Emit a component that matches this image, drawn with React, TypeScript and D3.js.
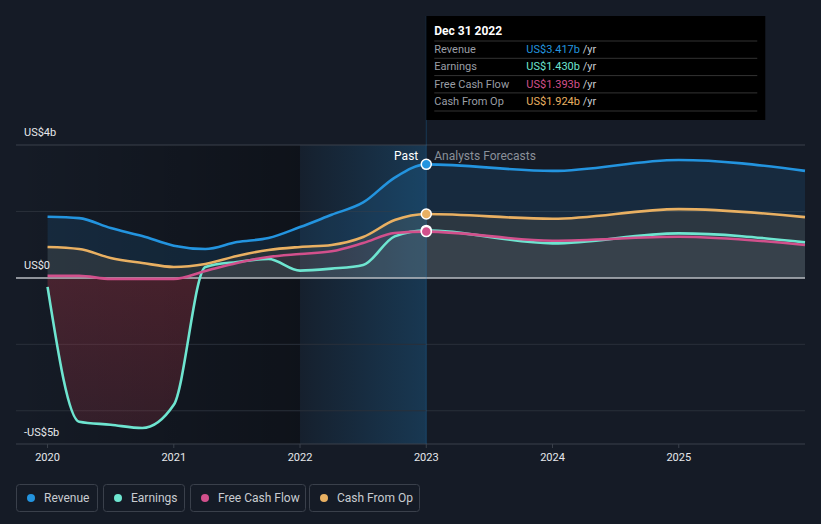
import React from 'react';
import * as d3 from 'd3';

// values in US$ billions
const pastDates = [2020, 2020.25, 2020.5, 2020.75, 2021, 2021.25, 2021.5, 2021.75, 2022, 2022.25, 2022.5, 2022.75, 2023];
const revenuePast = [1.84, 1.8, 1.5, 1.26, 0.97, 0.87, 1.08, 1.2, 1.53, 1.9, 2.27, 3.02, 3.417];
const earningsPast = [-0.27, -4.33, -4.42, -4.52, -3.82, 0.33, 0.48, 0.57, 0.22, 0.28, 0.39, 1.25, 1.43];
const fcfPast = [0.06, 0.06, -0.03, -0.03, -0.03, 0.21, 0.45, 0.63, 0.72, 0.8, 1.05, 1.35, 1.393];
const cfoPast = [0.93, 0.87, 0.6, 0.45, 0.33, 0.42, 0.66, 0.84, 0.93, 0.99, 1.23, 1.74, 1.924];

const forecastDates = [2024, 2025, 2026];
const revenueForecast = [3.22, 3.55, 3.22];
const earningsForecast = [1.04, 1.34, 1.07];
const fcfForecast = [1.12, 1.24, 0.99];
const cfoForecast = [1.78, 2.07, 1.83];

const xTicks = [2020, 2021, 2022, 2023, 2024, 2025];
const yGrid = [4, 2, 0, -2, -4];
const yLabels = [
  { v: 4, text: 'US$4b' },
  { v: 0, text: 'US$0' },
  { v: -5, text: '-US$5b' },
];

const names = ['Revenue', 'Earnings', 'Free Cash Flow', 'Cash From Op'];
const colors = ['#2394df', '#6ee5d0', '#d2508c', '#e9b062'];
const tooltipValues = ['US$3.417b', 'US$1.430b', 'US$1.393b', 'US$1.924b'];

const W = 821;
const H = 524;
const left = 16;
const right = 805;
const top = 145;
const bottom = 444;
const font = 'Roboto, "Noto Sans", sans-serif';

type Pt = { d: number; v: number };

const join = (past: number[], fc: number[]): Pt[] =>
  pastDates.map((d, i) => ({ d, v: past[i] })).concat(forecastDates.map((d, i) => ({ d, v: fc[i] })));

const App: React.FC = () => {
  const x = d3.scaleLinear().domain([2019.75, 2026]).range([left, right]);
  const y = d3.scaleLinear().domain([-5, 4]).range([bottom, top]);
  const y0 = y(0);
  const now = x(2023);

  const series = [
    join(revenuePast, revenueForecast),
    join(earningsPast, earningsForecast),
    join(fcfPast, fcfForecast),
    join(cfoPast, cfoForecast),
  ];

  const line = d3.line<Pt>().x(p => x(p.d)).y(p => y(p.v)).curve(d3.curveMonotoneX);
  const area = d3.area<Pt>().x(p => x(p.d)).y0(y0).y1(p => y(p.v)).curve(d3.curveMonotoneX);

  const areaFill = [
    { i: 0, fill: 'rgba(35,148,223,0.13)' },
    { i: 3, fill: 'rgba(233,176,98,0.1)' },
    { i: 2, fill: 'rgba(210,80,140,0.05)' },
  ];

  return (
    <svg width={W} height={H} style={{ position: 'absolute', left: 0, top: 0 }} fontFamily={font}>
      <defs>
        <linearGradient id="pastShade" x1="0" x2="1" y1="0" y2="0">
          <stop offset="0" stopColor="#000" stopOpacity={0} />
          <stop offset="1" stopColor="#000" stopOpacity={0.32} />
        </linearGradient>
        <linearGradient id="hlShade" x1="0" x2="1" y1="0" y2="0">
          <stop offset="0" stopColor="#2394df" stopOpacity={0.04} />
          <stop offset="1" stopColor="#2394df" stopOpacity={0.24} />
        </linearGradient>
        <linearGradient id="negShade" x1="0" x2="0" y1="0" y2="1">
          <stop offset="0" stopColor="#c73a4a" stopOpacity={0.32} />
          <stop offset="1" stopColor="#c73a4a" stopOpacity={0.18} />
        </linearGradient>
        <clipPath id="above">
          <rect x={0} y={0} width={W} height={y0} />
        </clipPath>
        <clipPath id="below">
          <rect x={0} y={y0} width={W} height={H - y0} />
        </clipPath>
      </defs>

      <rect width={W} height={H} fill="#151b26" />

      {/* past shading and hovered year */}
      <rect x={left} y={top} width={x(2022) - left} height={bottom - top} fill="url(#pastShade)" />
      <rect x={x(2022)} y={top} width={now - x(2022)} height={bottom - top} fill="url(#hlShade)" />

      {/* grid */}
      {yGrid.filter(v => v !== 0).map(v => (
        <line key={v} x1={left} x2={right} y1={y(v)} y2={y(v)} stroke={v === 4 ? '#3a404b' : '#2a303a'} strokeWidth={1} />
      ))}

      {/* areas */}
      {areaFill.map(a => (
        <path key={a.i} d={area(series[a.i]) || ''} fill={a.fill} />
      ))}
      <path d={area(series[1]) || ''} fill="rgba(110,229,208,0.05)" clipPath="url(#above)" />
      <path d={area(series[1]) || ''} fill="url(#negShade)" clipPath="url(#below)" />

      {/* zero line and axis */}
      <line x1={left} x2={right} y1={y0} y2={y0} stroke="#b8bcc2" strokeWidth={1.5} />
      <line x1={left} x2={right} y1={bottom} y2={bottom} stroke="#3a404b" strokeWidth={1} />
      <line x1={now} x2={now} y1={16} y2={bottom} stroke="#2394df" strokeOpacity={0.25} strokeWidth={1} />

      {/* lines */}
      {[1, 2, 3, 0].map(i => (
        <path key={i} d={line(series[i]) || ''} fill="none" stroke={colors[i]} strokeWidth={2.6} strokeLinejoin="round" />
      ))}

      {/* current markers */}
      {[1, 3, 2, 0].map(i => (
        <circle key={i} cx={now} cy={y(series[i][pastDates.length - 1].v)} r={5} fill={colors[i]} stroke="#fff" strokeWidth={1.5} />
      ))}

      <text x={now - 8} y={160} fill="#fff" fontSize={12} textAnchor="end">Past</text>
      <text x={now + 8} y={160} fill="#8a9099" fontSize={12}>Analysts Forecasts</text>

      {/* y labels */}
      {yLabels.map(l => (
        <text key={l.v} x={24} y={y(l.v) - (l.v === -5 ? 8 : 9)} fill="#e6e8eb" fontSize={11}>{l.text}</text>
      ))}

      {/* x ticks */}
      {xTicks.map(t => (
        <g key={t}>
          <line x1={x(t)} x2={x(t)} y1={bottom} y2={bottom + 4} stroke="#3a404b" />
          <text x={x(t)} y={461} fill="#e6e8eb" fontSize={11} textAnchor="middle">{t}</text>
        </g>
      ))}

      {/* tooltip */}
      <g transform={`translate(${now},16)`}>
        <rect width={339} height={104} fill="#000" />
        <text x={8} y={19} fill="#fff" fontSize={12} fontWeight="bold">Dec 31 2022</text>
        {names.map((n, i) => (
          <g key={n} transform={`translate(0,${25 + i * 17.3})`}>
            <line x1={8} x2={331} y1={0} y2={0} stroke="#333" />
            <text x={8} y={12} fill="#9a9ea5" fontSize={11}>{n}</text>
            <text x={100} y={12} fontSize={11}>
              <tspan fill={colors[i]}>{tooltipValues[i]}</tspan>
              <tspan fill="#c8ccd1"> /yr</tspan>
            </text>
          </g>
        ))}
        <line x1={8} x2={331} y1={95} y2={95} stroke="#333" />
      </g>

      {/* legend */}
      {(() => {
        const boxes = [
          { x: 16, w: 81 },
          { x: 103, w: 81 },
          { x: 190, w: 115 },
          { x: 309, w: 110 },
        ];
        return names.map((n, i) => (
          <g key={n} transform={`translate(${boxes[i].x},484)`}>
            <rect x={0.5} y={0.5} width={boxes[i].w} height={27} rx={3} fill="none" stroke="#3a404b" />
            <circle cx={15} cy={14} r={4} fill={colors[i]} />
            <text x={28} y={18} fill="#c8ccd1" fontSize={12}>{n}</text>
          </g>
        ));
      })()}
    </svg>
  );
};

export default App;
